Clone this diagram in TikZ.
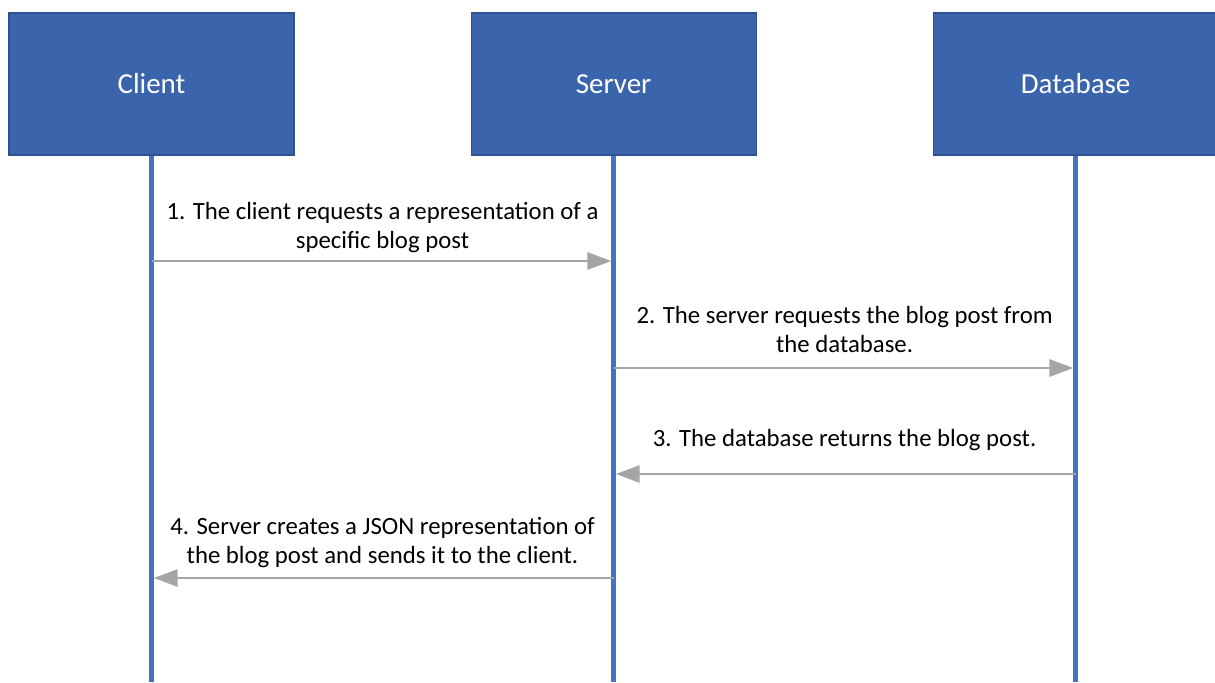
\documentclass[tikz,border=0pt]{standalone}
\usepackage{fontspec}
\setmainfont{Carlito}
\usetikzlibrary{positioning,arrows.meta}
\definecolor{bblue}{RGB}{58,100,172}
\definecolor{dblue}{RGB}{47,82,143}
\definecolor{lblue}{RGB}{68,114,196}
\definecolor{mgray}{RGB}{165,165,165}

\begin{document}
\begin{tikzpicture}[
    actor/.style={draw=dblue,fill=bblue,line width=0.6pt,text=white,
      minimum width=5.7cm,minimum height=2.84cm,inner sep=0pt,
      font=\fontsize{16.5}{20}\selectfont},
    life/.style={lblue,line width=2.6pt},
    msg/.style={mgray,line width=1.2pt,shorten >=1.3pt,
      -{Triangle[length=13.6pt,width=9.8pt]}},
    lbl/.style={align=center,inner sep=0pt,text depth=0pt,text=black,
      font=\fontsize{14.1}{17}\selectfont}]
        \useasboundingbox (0,0) rectangle (24.3,-13.64);
        % the three lanes
        \node[actor] (client) at (3.03,-1.68) {Client};
        \node[actor,right=3.52cm of client] (server) {Server};
        \node[actor,right=3.52cm of server] (db) {Database};
        \foreach \a in {client,server,db}
          {\coordinate (\a end) at (\a.south |- 0,-13.64);
           \draw[life] (\a.south)--(\a end);}
        % end points of the messages on the lifelines
        \coordinate (c1) at (client.south |- 0,-5.22);
        \coordinate (s1) at (server.south |- 0,-5.22);
        \coordinate (s2) at (server.south |- 0,-7.36);
        \coordinate (d2) at (db.south |- 0,-7.36);
        \coordinate (d3) at (db.south |- 0,-9.48);
        \coordinate (s3) at (server.south |- 0,-9.48);
        \coordinate (s4) at (server.south |- 0,-11.56);
        \coordinate (c4) at (client.south |- 0,-11.56);
        \draw[msg] (c1)--node[lbl,above=0.22cm]{1. The client requests a representation of a\\specific blog post}(s1);
        \draw[msg] (s2)--node[lbl,above=0.28cm]{2. The server requests the blog post from\\the database.}(d2);
        \draw[msg] (d3)--node[lbl,above=0.52cm]{3. The database returns the blog post.}(s3);
        \draw[msg] (s4)--node[lbl,above=0.26cm]{4. Server creates a JSON representation of\\the blog post and sends it to the client.}(c4);
      \end{tikzpicture}
\end{document}
